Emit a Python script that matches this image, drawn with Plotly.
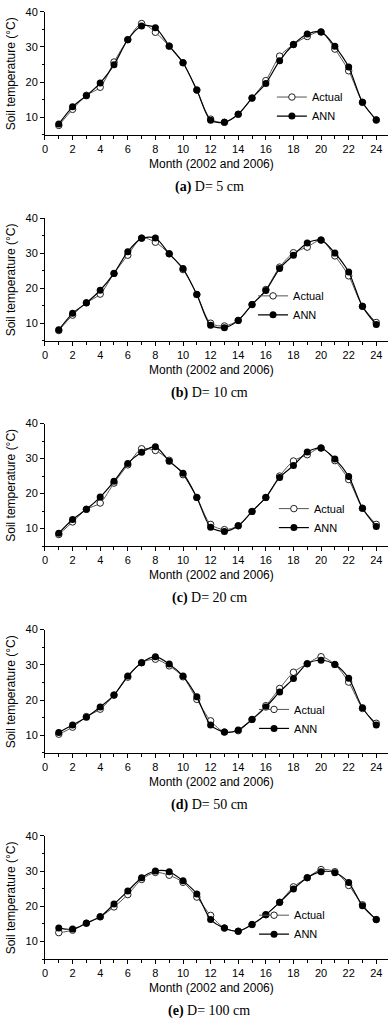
import plotly.graph_objects as go

# ---------------- data ----------------
months = list(range(1, 25))
x_tick_vals = list(range(0, 25, 2))
y_tick_vals = [10, 20, 30, 40]
panel_letters = ["(a)", "(b)", "(c)", "(d)", "(e)"]
panel_depths = ["D= 5 cm", "D= 10 cm", "D= 20 cm", "D= 50 cm", "D= 100 cm"]
series_names = ["Actual", "ANN"]

actual_5 = [7.6, 12.2, 16.2, 18.5, 25.7, 32.1, 36.7, 34.2, 30.2, 25.5, 17.7, 9.4,
            8.5, 10.8, 15.4, 20.4, 27.4, 30.7, 33.0, 34.3, 29.4, 23.2, 14.2, 9.1]
ann_5 = [8.0, 12.9, 16.1, 19.7, 24.9, 32.1, 36.0, 35.5, 30.3, 25.5, 17.7, 9.1,
         8.5, 10.8, 15.4, 19.6, 26.1, 30.7, 33.7, 34.3, 30.2, 24.3, 14.2, 9.2]

actual_10 = [7.9, 12.3, 15.8, 18.3, 24.2, 29.4, 34.3, 33.1, 29.8, 25.3, 18.2, 10.0,
             9.2, 10.8, 15.3, 19.6, 26.0, 30.1, 31.7, 33.7, 29.2, 23.5, 14.8, 10.2]
ann_10 = [8.1, 12.8, 15.8, 19.4, 24.2, 30.4, 34.2, 34.3, 29.8, 25.6, 18.2, 9.4,
          8.7, 10.8, 15.3, 19.3, 25.6, 29.4, 32.9, 33.7, 30.0, 24.6, 14.8, 9.6]

actual_20 = [8.3, 11.9, 15.5, 17.3, 23.0, 28.2, 32.8, 32.3, 29.5, 25.4, 18.9, 11.2,
             9.7, 10.8, 14.9, 18.9, 25.0, 29.3, 31.1, 33.0, 29.4, 24.0, 15.8, 11.2]
ann_20 = [8.7, 12.6, 15.5, 19.0, 23.5, 28.6, 31.8, 33.4, 29.2, 25.8, 18.9, 10.4,
          9.2, 10.8, 14.9, 18.9, 24.6, 28.0, 31.9, 33.0, 29.9, 24.9, 15.8, 10.6]

actual_50 = [10.3, 12.3, 15.3, 17.4, 21.4, 26.5, 30.6, 31.6, 29.7, 26.6, 20.2, 14.1,
             10.9, 11.3, 14.5, 18.4, 23.3, 27.9, 30.3, 32.3, 30.1, 25.1, 17.6, 13.4]
ann_50 = [10.8, 12.9, 15.1, 18.0, 21.4, 26.8, 30.6, 32.3, 30.2, 26.8, 20.9, 12.9,
          10.9, 11.5, 14.5, 18.0, 22.3, 26.1, 30.3, 31.3, 30.1, 26.2, 17.8, 12.9]

actual_100 = [12.5, 13.2, 15.2, 17.0, 19.8, 23.3, 27.6, 29.6, 28.8, 26.8, 22.6, 17.4,
              13.8, 12.9, 14.8, 17.6, 21.1, 25.5, 28.1, 30.4, 29.8, 25.9, 20.4, 16.2]
ann_100 = [13.8, 13.5, 15.2, 17.0, 20.6, 24.3, 28.1, 30.0, 29.8, 27.2, 23.5, 16.2,
           13.8, 12.9, 14.8, 17.6, 21.1, 24.9, 28.1, 29.8, 29.5, 26.7, 20.1, 16.2]

actual_all = [actual_5, actual_10, actual_20, actual_50, actual_100]
ann_all = [ann_5, ann_10, ann_20, ann_50, ann_100]

# ---------------- layout geometry (pixels) ----------------
W, H = 388, 1018
plot_left = 42.3
panel_top = [6, 213.3, 420, 627.3, 834.7]
panel_bot = [129.3, 336.7, 543.3, 751.3, 958.7]
legend_text_x = [313, 294, 315, 295, 295]
legend_row_y = [100, 300, 514, 716, 923]

SANS = "Liberation Sans, Arial, Helvetica, sans-serif"
SERIF = "Liberation Serif, Times New Roman, serif"


def px_x(p):
    return p / W


def px_y(p):
    return 1 - p / H


fig = go.Figure()
annotations = []
layout = dict(
    width=W, height=H,
    margin=dict(l=0, r=0, t=0, b=0),
    paper_bgcolor="white", plot_bgcolor="white",
    font=dict(family=SANS, size=11, color="black"),
)

for i in range(5):
    n = "" if i == 0 else str(i + 1)
    leg = "legend" if i == 0 else "legend" + n
    xa, ya = "x" + n, "y" + n
    fig.add_trace(go.Scatter(
        x=months, y=actual_all[i], name=series_names[0], mode="lines+markers",
        xaxis=xa, yaxis=ya, legend=leg,
        line=dict(color="#555555", width=1, shape="spline", smoothing=0.8),
        marker=dict(symbol="circle", size=6.5, color="white",
                    line=dict(color="#222222", width=1)),
    ))
    fig.add_trace(go.Scatter(
        x=months, y=ann_all[i], name=series_names[1], mode="lines+markers",
        xaxis=xa, yaxis=ya, legend=leg,
        line=dict(color="black", width=1.2, shape="spline", smoothing=0.8),
        marker=dict(symbol="circle", size=7, color="black",
                    line=dict(color="black", width=0)),
    ))
    layout["xaxis" + n] = dict(
        domain=[px_x(plot_left), 1.0], range=[0, 24.85], anchor=ya,
        tickvals=x_tick_vals, ticks="outside", ticklen=4, tickwidth=1,
        tickcolor="black", showline=True, linecolor="black", linewidth=1,
        showgrid=False, zeroline=False, tickfont=dict(size=11, family=SANS),
        minor=dict(dtick=1, ticks="outside", ticklen=3, tickcolor="black",
                   showgrid=False),
    )
    layout["yaxis" + n] = dict(
        domain=[px_y(panel_bot[i]), px_y(panel_top[i])], range=[5, 40], anchor=xa,
        tickvals=y_tick_vals, ticks="outside", ticklen=4, tickwidth=1,
        tickcolor="black", showline=True, linecolor="black", linewidth=1,
        showgrid=False, zeroline=False, tickfont=dict(size=11, family=SANS),
        minor=dict(dtick=5, ticks="outside", ticklen=2, tickcolor="black",
                   showgrid=False),
    )
    layout[leg] = dict(
        x=px_x(legend_text_x[i] - 42), xanchor="left",
        y=px_y(legend_row_y[i] - 23), yanchor="top",
        bgcolor="rgba(0,0,0,0)", borderwidth=0,
        font=dict(size=11, family=SANS), itemwidth=30,
    )
    # y title
    annotations.append(dict(
        text="Soil temperature (°C)", textangle=-90, showarrow=False,
        xref="paper", yref="paper", x=px_x(8), y=px_y((panel_top[i] + panel_bot[i]) / 2),
        xanchor="center", yanchor="middle", font=dict(size=12, family=SANS),
    ))
    # x title
    annotations.append(dict(
        text="Month (2002 and 2006)", showarrow=False,
        xref="paper", yref="paper", x=px_x(210), y=px_y(panel_bot[i] + 29.5),
        xanchor="center", yanchor="middle", font=dict(size=12, family=SANS),
    ))
    # caption
    annotations.append(dict(
        text="<b>" + panel_letters[i] + "</b> " + panel_depths[i], showarrow=False,
        xref="paper", yref="paper", x=px_x(208), y=px_y(panel_bot[i] + 52.7),
        xanchor="center", yanchor="middle", font=dict(size=14, family=SERIF),
    ))

layout["annotations"] = annotations
fig.update_layout(**layout)
fig.write_html(
    "out.html",
    config={"displayModeBar": False},
    post_script="document.body.style.margin='0';document.body.style.overflow='hidden';",
)
